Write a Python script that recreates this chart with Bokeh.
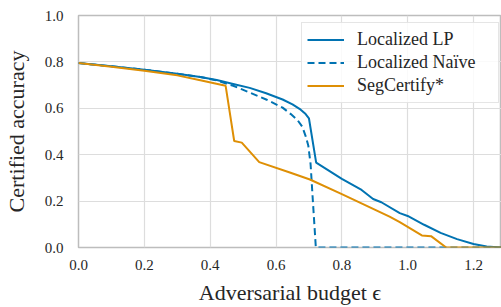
from bokeh.plotting import figure
from bokeh.models import Range1d, FixedTicker, PrintfTickFormatter, Legend, LegendItem
from bokeh.embed import file_html
from bokeh.resources import INLINE

# Data
lp_x = [0, 0.1, 0.2, 0.3, 0.37, 0.42, 0.47, 0.52, 0.57, 0.62, 0.65, 0.675, 0.69, 0.70,
        0.722, 0.8, 0.86, 0.895, 0.92, 0.976, 1.0, 1.05, 1.1, 1.15, 1.2, 1.24, 1.285]
lp_y = [0.795, 0.781, 0.766, 0.749, 0.735, 0.722, 0.705, 0.688, 0.665, 0.638, 0.617, 0.594,
        0.575, 0.557, 0.366, 0.296, 0.248, 0.209, 0.195, 0.148, 0.136, 0.098, 0.063, 0.036,
        0.015, 0.004, 0.0]

naive_x = [0, 0.1, 0.2, 0.3, 0.37, 0.42, 0.47, 0.52, 0.57, 0.62, 0.645, 0.665, 0.68, 0.69,
           0.698, 0.705, 0.712, 0.721, 1.285]
naive_y = [0.795, 0.781, 0.766, 0.749, 0.735, 0.72, 0.697, 0.668, 0.638, 0.603, 0.575, 0.55,
           0.52, 0.48, 0.44, 0.36, 0.2, 0.0, 0.0]

seg_x = [0, 0.1, 0.2, 0.3, 0.37, 0.447, 0.473, 0.496, 0.549, 0.642, 0.703, 0.8, 0.945,
         0.976, 1.043, 1.071, 1.117, 1.285]
seg_y = [0.795, 0.779, 0.762, 0.742, 0.721, 0.697, 0.459, 0.452, 0.368, 0.323, 0.293, 0.230,
         0.133, 0.109, 0.052, 0.049, 0.0, 0.0]

x_ticks = [0.0, 0.2, 0.4, 0.6, 0.8, 1.0, 1.2]
y_ticks = [0.0, 0.2, 0.4, 0.6, 0.8, 1.0]

BLUE = "#0173b2"
ORANGE = "#de8f05"
FONT = "Liberation Serif"
TXT = "#262626"

p = figure(width=501, height=307, output_backend="svg", toolbar_location=None,
           x_range=Range1d(0, 1.285), y_range=Range1d(0, 1.0),
           min_border_left=77, min_border_right=0, min_border_top=15, min_border_bottom=60)

p.outline_line_color = "#bdbdbd"
p.outline_line_width = 1.5
p.background_fill_color = "white"
p.border_fill_color = "white"

for ax in (p.xaxis[0], p.yaxis[0]):
    ax.axis_line_color = None
    ax.major_tick_line_color = None
    ax.minor_tick_line_color = None
    ax.major_tick_out = 0
    ax.major_tick_in = 0
    ax.minor_tick_out = 0
    ax.major_label_text_font = FONT
    ax.major_label_text_font_size = "15px"
    ax.major_label_text_font_style = "normal"
    ax.major_label_text_color = TXT
    ax.axis_label_text_font = FONT
    ax.axis_label_text_font_size = "22px"
    ax.axis_label_text_font_style = "normal"
    ax.axis_label_text_color = TXT
    ax.formatter = PrintfTickFormatter(format="%.1f")

p.xaxis.ticker = FixedTicker(ticks=x_ticks)
p.yaxis.ticker = FixedTicker(ticks=y_ticks)
p.xaxis.major_label_standoff = 12
p.yaxis.major_label_standoff = 15
p.xaxis.axis_label = "Adversarial budget \u03f5"
p.yaxis.axis_label = "Certified accuracy"
p.xaxis.axis_label_standoff = 7
p.yaxis.axis_label_standoff = 13

p.xgrid.grid_line_color = "#dddddd"
p.ygrid.grid_line_color = "#dddddd"
p.xgrid.grid_line_width = 1.2
p.ygrid.grid_line_width = 1.2

r_lp = p.line(lp_x, lp_y, line_color=BLUE, line_width=2)
r_nv = p.line(naive_x, naive_y, line_color=BLUE, line_width=2, line_dash="7 4")
r_sc = p.line(seg_x, seg_y, line_color=ORANGE, line_width=2)

legend = Legend(items=[LegendItem(label="Localized LP", renderers=[r_lp]),
                       LegendItem(label="Localized Na\u00efve", renderers=[r_nv]),
                       LegendItem(label="SegCertify*", renderers=[r_sc])],
                location=(223, 144))
legend.label_text_font = FONT
legend.label_text_font_size = "18px"
legend.label_text_font_style = "normal"
legend.label_text_color = TXT
legend.border_line_color = "#cccccc"
legend.border_line_width = 1.5
legend.background_fill_alpha = 0.85
legend.padding = 5
legend.spacing = 0
legend.margin = 0
legend.glyph_width = 37
legend.glyph_height = 23
legend.label_height = 23
legend.label_standoff = 13
legend.label_width = 136
p.add_layout(legend)

open("out.html", "w").write(file_html(p, INLINE))
